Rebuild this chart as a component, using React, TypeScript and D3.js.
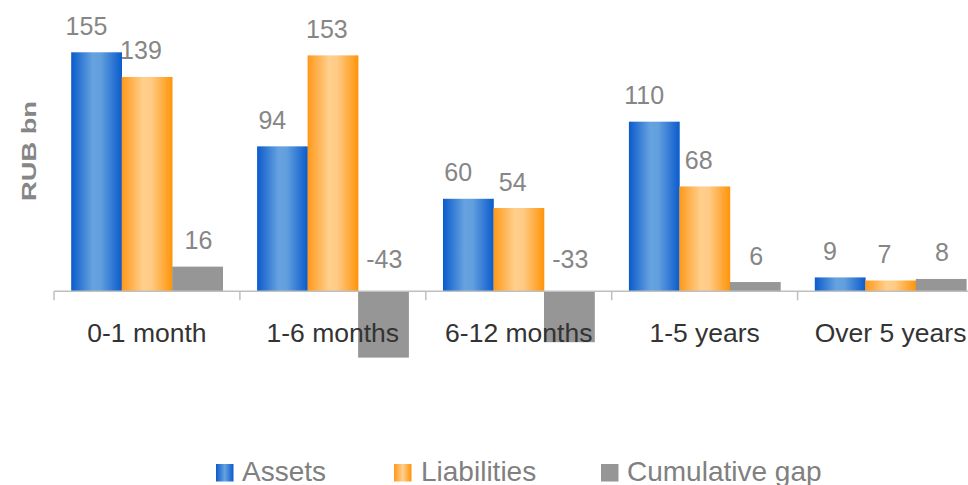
import React from "react";
import * as d3 from "d3";

const categories = ["0-1 month", "1-6 months", "6-12 months", "1-5 years", "Over 5 years"];
const assets = [155, 94, 60, 110, 9];
const liabilities = [139, 153, 54, 68, 7];
const cumulativeGap = [16, -43, -33, 6, 8];
const seriesNames = ["Assets", "Liabilities", "Cumulative gap"];

const W = 968;
const H = 485;
const FONT = "Liberation Sans, Arial, Helvetica, sans-serif";

export default function App() {
  const series = [
    { name: seriesNames[0], values: assets, fill: "url(#gBlue)", dx: -10 },
    { name: seriesNames[1], values: liabilities, fill: "url(#gOrange)", dx: -6 },
    { name: seriesNames[2], values: cumulativeGap, fill: "#969696", dx: 1 },
  ];

  const x0 = d3.scaleBand<string>().domain(categories).range([54, 983.5]).padding(0);
  const bw = x0.bandwidth();
  const gap = bw * 0.0925;
  const x1 = d3.scaleBand<string>().domain(seriesNames).range([gap, bw - gap]).padding(0);
  const zeroY = 291.3;
  const k = 1.542;
  const y = d3.scaleLinear().domain([-50, 160]).range([zeroY + 50 * k, zeroY - 160 * k]);

  const ticks = categories.map((c) => x0(c)!).concat([x0.range()[1]]);

  const legendItems = [
    { name: seriesNames[0], fill: "url(#gBlueL)", sx: 216, tx: 242 },
    { name: seriesNames[1], fill: "url(#gOrangeL)", sx: 394, tx: 421 },
    { name: seriesNames[2], fill: "#969696", sx: 601, tx: 627 },
  ];

  return (
    <div style={{ position: "fixed", left: 0, top: 0 }}>
      <svg width={W} height={H} style={{ display: "block", background: "#fff" }}>
        <defs>
          <linearGradient id="gBlue" x1="0" x2="1" y1="0" y2="0">
            <stop offset="0" stopColor="#0a5bcc" />
            <stop offset="0.42" stopColor="#66a2df" />
            <stop offset="0.58" stopColor="#629fde" />
            <stop offset="1" stopColor="#0a5bcc" />
          </linearGradient>
          <linearGradient id="gOrange" x1="0" x2="1" y1="0" y2="0">
            <stop offset="0" stopColor="#ff981a" />
            <stop offset="0.42" stopColor="#ffcf8d" />
            <stop offset="0.58" stopColor="#ffcb86" />
            <stop offset="1" stopColor="#ff9408" />
          </linearGradient>
          <linearGradient id="gBlueL" x1="0" x2="1" y1="0" y2="0">
            <stop offset="0" stopColor="#0a5bcc" />
            <stop offset="0.5" stopColor="#66a2df" />
            <stop offset="1" stopColor="#0a5bcc" />
          </linearGradient>
          <linearGradient id="gOrangeL" x1="0" x2="1" y1="0" y2="0">
            <stop offset="0" stopColor="#ff981a" />
            <stop offset="0.5" stopColor="#ffcf8d" />
            <stop offset="1" stopColor="#ff9408" />
          </linearGradient>
        </defs>

        {/* bars */}
        {categories.map((c, i) => (
          <g key={c} transform={`translate(${x0(c)},0)`}>
            {series.map((s) => {
              const v = s.values[i];
              const top = Math.min(y(v), y(0));
              const h = Math.abs(y(v) - y(0));
              return (
                <rect key={s.name} x={x1(s.name)} y={top} width={x1.bandwidth() + 0.3} height={h} fill={s.fill} />
              );
            })}
          </g>
        ))}

        {/* axis */}
        <line x1={ticks[0]} x2={W + 20} y1={zeroY} y2={zeroY} stroke="#bfbfbf" strokeWidth={1.5} />
        {ticks.map((t, i) => (
          <line key={i} x1={t} x2={t} y1={zeroY} y2={zeroY + 9} stroke="#bfbfbf" strokeWidth={1.5} />
        ))}

        {/* category labels */}
        {categories.map((c) => (
          <text
            key={c}
            x={x0(c)! + bw / 2}
            y={341.5}
            textAnchor="middle"
            fontFamily={FONT}
            fontSize={26.5}
            fill="#333333"
          >
            {c}
          </text>
        ))}

        {/* data labels */}
        {categories.map((c, i) =>
          series.map((s) => {
            const v = s.values[i];
            const cx = x0(c)! + x1(s.name)! + x1.bandwidth() / 2 + s.dx;
            const ly = v >= 0 ? y(v) - 17.5 : y(0) - 23.5;
            return (
              <text
                key={c + s.name}
                x={cx}
                y={ly}
                textAnchor="middle"
                fontFamily={FONT}
                fontSize={25}
                fill="#868686"
              >
                {v}
              </text>
            );
          })
        )}

        {/* y axis title */}
        <text
          transform="translate(35.5,151) rotate(-90)"
          textAnchor="middle"
          fontFamily={FONT}
          fontSize={19.5}
          fontWeight="bold"
          fill="#868686"
          textLength={100}
          lengthAdjust="spacingAndGlyphs"
        >
          RUB bn
        </text>

        {/* legend */}
        {legendItems.map((l) => (
          <g key={l.name}>
            <rect x={l.sx} y={464} width={17.5} height={17.5} fill={l.fill} />
            <text x={l.tx} y={480.5} fontFamily={FONT} fontSize={28} fill="#808080">
              {l.name}
            </text>
          </g>
        ))}
      </svg>
    </div>
  );
}
